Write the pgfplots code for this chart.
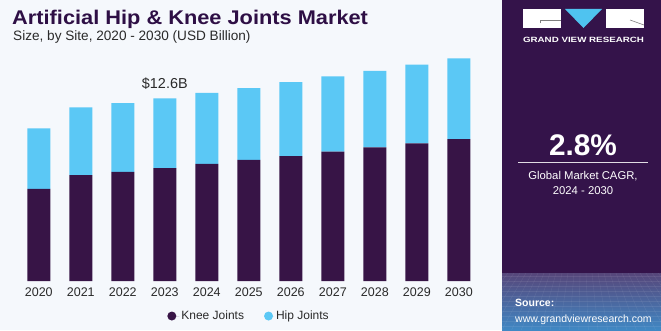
\documentclass[border=0pt]{standalone}
\usepackage{fontspec}
\setmainfont{Liberation Sans}
\usepackage{pgfplots}
\pgfplotsset{compat=1.18}
\usepackage{graphicx}
\definecolor{knee}{HTML}{371446}
\definecolor{hip}{HTML}{5BC8F5}
\definecolor{bg}{HTML}{F5F8FC}
\definecolor{panel}{HTML}{34134A}
\definecolor{titlec}{HTML}{2E0F45}
\definecolor{txt}{HTML}{2A2A2A}
\definecolor{gradtop}{HTML}{56467A}
\definecolor{gradbot}{HTML}{4088C4}
\definecolor{logoblue}{HTML}{4FC3F0}
\pgfplotstableread{
x knee hip
0 6.35 4.18
1 7.31 4.67
2 7.52 4.74
3 7.79 4.81
4 8.07 4.90
5 8.35 4.96
6 8.62 5.10
7 8.92 5.20
8 9.22 5.28
9 9.50 5.42
10 9.79 5.57
}\datatable
\begin{document}
\begin{tikzpicture}[x=1pt,y=1pt]
\fill[bg] (0,0) rectangle (661,330);
\fill[panel] (502,0) rectangle (661,330);
\shade[top color=gradtop, bottom color=gradbot] (502,0) rectangle (661,57);
\begin{scope}
\clip (502,0) rectangle (661,57);
\foreach \i in {0,6,...,160} {\draw[white, opacity=0.08, line width=0.4pt] (502+\i,57) -- (502+\i*1.6-48,0);}
\foreach \j in {4,9,...,57} {\draw[white, opacity=0.08, line width=0.4pt] (502,\j) -- (661,\j);}
\end{scope}
% logo
\fill[white] (523,302) rectangle (561,321);
\draw[gray,line width=0.6pt] (540.7,306.5) -- (540.7,309.3) -- (561,309.3);
\fill[logoblue] (565,321) -- (602,321) -- (583.5,302) -- cycle;
\fill[white] (606,302) rectangle (644,321);
\draw[gray,line width=0.6pt] (630,310) -- (644,305);
\node[anchor=base, text=white, inner sep=0] at (583.5,287.3) {\resizebox{121pt}{5.3pt}{\bfseries GRAND VIEW RESEARCH}};
% panel text
\node[anchor=base, text=white, inner sep=0, font=\fontsize{29.8}{32}\selectfont\bfseries] at (583,175) {2.8\%};
\draw[white!85!panel, line width=0.8pt] (518,167.3) -- (648,167.3);
\node[anchor=base, text=white, inner sep=0, font=\fontsize{11.3}{13}\selectfont] at (583,151) {Global Market CAGR,};
\node[anchor=base, text=white, inner sep=0, font=\fontsize{11.3}{13}\selectfont] at (583,136) {2024 - 2030};
\node[anchor=base west, text=white, inner sep=0, font=\fontsize{10.5}{12}\selectfont\bfseries] at (515,23.3) {Source:};
\node[anchor=base west, text=white, inner sep=0, font=\fontsize{10.5}{12}\selectfont] at (515,7.3) {www.grandviewresearch.com};
% titles
\node[anchor=base west, text=titlec, inner sep=0] at (12,305) {\scalebox{1.1}[1]{\fontsize{19.8}{22}\selectfont\bfseries Artificial Hip \& Knee Joints Market}};
\node[anchor=base west, text=txt, inner sep=0, font=\fontsize{13.6}{15}\selectfont] at (13,289) {Size, by Site, 2020 - 2030 (USD Billion)};
\begin{axis}[
  at={(17.8pt,49pt)}, anchor=south west,
  scale only axis, width=462pt, height=232pt,
  xmin=-0.5, xmax=10.5, ymin=0, ymax=16,
  ybar stacked, bar width=23pt,
  axis line style={draw=none}, major tick length=0pt,
  ytick=\empty,
  xtick={0,...,10},
  xticklabels={2020,2021,2022,2023,2024,2025,2026,2027,2028,2029,2030},
  xticklabel style={font=\fontsize{12.5}{14}\selectfont, text=txt, yshift=-3pt},
  legend style={at={(0.5005,-0.151)}, anchor=center, draw=none, fill=none,
    legend columns=2, font=\fontsize{12}{14}\selectfont, text=txt,
    /tikz/every even column/.append style={column sep=18pt}},
]
\addplot[fill=knee, draw=none, legend image code/.code={\path (0pt,0pt) -- (12pt,0pt); \fill[knee] (4.5pt,0pt) circle (4.5pt);}] table[x=x,y=knee] {\datatable};
\addlegendentry{Knee Joints}
\addplot[fill=hip, draw=none, legend image code/.code={\path (0pt,0pt) -- (10pt,0pt); \fill[hip] (4.5pt,0pt) circle (4.5pt);}] table[x=x,y=hip] {\datatable};
\addlegendentry{Hip Joints}
\node[anchor=base, font=\fontsize{14.4}{16}\selectfont, text=txt] at (axis cs:3,12.6) [yshift=10pt] {\$12.6B};
\end{axis}
\end{tikzpicture}
\end{document}
